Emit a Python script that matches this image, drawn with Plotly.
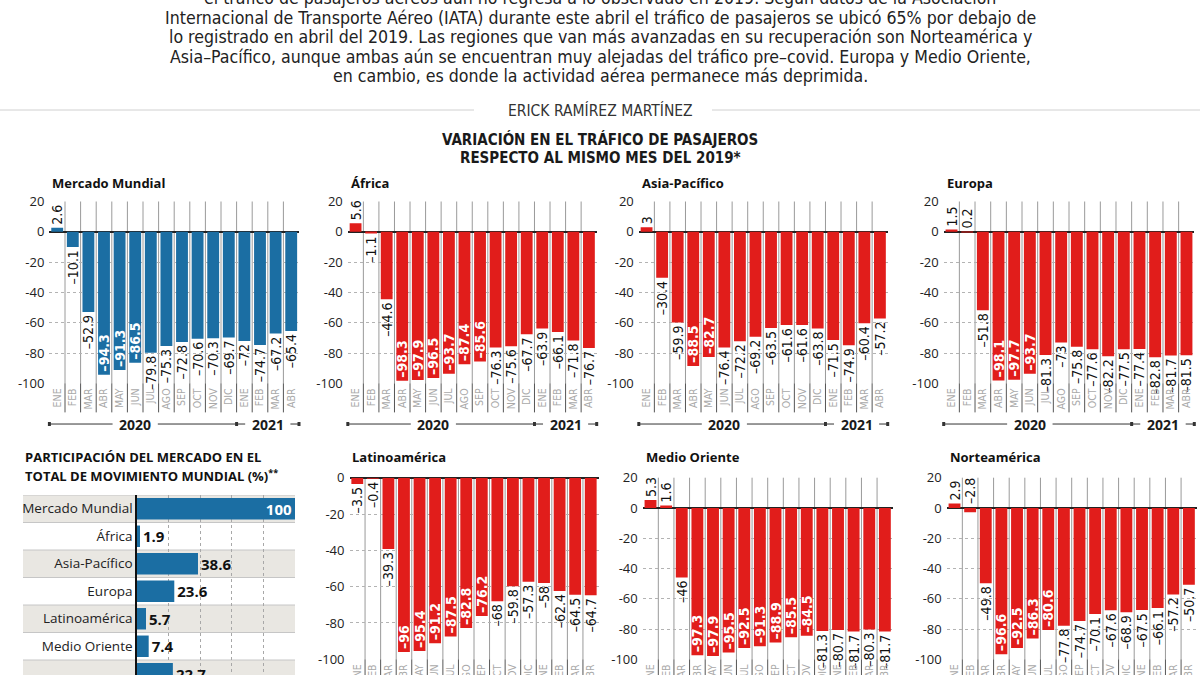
import plotly.graph_objects as go

W, H = 1200, 675

# ---------------- data ----------------
months = ["ENE", "FEB", "MAR", "ABR", "MAY", "JUN", "JUL", "AGO", "SEP", "OCT", "NOV", "DIC",
          "ENE", "FEB", "MAR", "ABR"]
years = ["2020", "2021"]

mundial = [2.6, -10.1, -52.9, -94.3, -91.3, -86.5, -79.8, -75.3, -72.8, -70.6, -70.3, -69.7,
           -72, -74.7, -67.2, -65.4]
africa = [5.6, -1.1, -44.6, -98.3, -97.9, -96.5, -93.7, -87.4, -85.6, -76.3, -75.6, -67.7,
          -63.9, -66.1, -71.8, -76.7]
asia = [3, -30.4, -59.9, -88.5, -82.7, -76.4, -72.2, -69.2, -63.5, -61.6, -61.6, -63.8,
        -71.5, -74.9, -60.4, -57.2]
europa = [1.5, 0.2, -51.8, -98.1, -97.7, -93.7, -81.3, -73, -75.8, -77.6, -82.2, -77.5,
          -77.4, -82.8, -81.7, -81.5]
latam = [-3.5, -0.4, -39.3, -96, -95.4, -91.2, -87.5, -82.8, -76.2, -68, -59.8, -57.3,
         -58, -62.4, -64.5, -64.7]
medio = [5.3, 1.6, -46, -97.3, -97.9, -95.5, -92.5, -91.3, -88.9, -85.5, -84.5, -81.3,
         -80.7, -81.7, -80.3, -81.7]
norte = [2.9, -2.8, -49.8, -96.6, -92.5, -86.3, -80.6, -77.8, -74.7, -70.1, -67.6, -68.9,
         -67.5, -66.1, -57.2, -50.7]

regions = ["Mercado Mundial", "África", "Asia-Pacífico", "Europa", "Latinoamérica",
           "Medio Oriente", "Norteamérica"]
shares = [100, 1.9, 38.6, 23.6, 5.7, 7.4, 22.7]

body_lines = [
    "el tráfico de pasajeros aéreos aún no regresa a lo observado en 2019. Según datos de la Asociación",
    "Internacional de Transporte Aéreo (IATA) durante este abril el tráfico de pasajeros se ubicó 65% por debajo de",
    "lo registrado en abril del 2019. Las regiones que van más avanzadas en su recuperación son Norteamérica y",
    "Asia–Pacífico, aunque ambas aún se encuentran muy alejadas del tráfico pre–covid. Europa y Medio Oriente,",
    "en cambio, es donde la actividad aérea permanece más deprimida.",
]
author = "ERICK RAMÍREZ MARTÍNEZ"
title_lines = ["VARIACIÓN EN EL TRÁFICO DE PASAJEROS", "RESPECTO AL MISMO MES DEL 2019*"]
share_title = ["PARTICIPACIÓN DEL MERCADO EN EL", "TOTAL DE MOVIMIENTO MUNDIAL (%)<sup>**</sup>"]

# ---------------- style ----------------
BLUE = "#1b6ea3"
RED = "#e11d1b"
NARROW = "Liberation Sans Narrow, Arial Narrow, DejaVu Sans Condensed, sans-serif"
SANS = "Open Sans, Noto Sans, sans-serif"
DARK = "#1a1a1a"


def fx(p):
    return p / W


def fy(p):
    return 1 - p / H


TOP = dict(yd=(201.5, 383.3), title_y=183)
BOT = dict(yd=(477.7, 659.3), title_y=457)

panels = [
    dict(title="Mercado Mundial", values=mundial, color=BLUE, xd=(49.4, 299.0), row=TOP,
         yr=(-100, 20), inside=[3, 4, 5], years=True),
    dict(title="África", values=africa, color=RED, xd=(347.8, 596.7), row=TOP,
         yr=(-100, 20), inside=[3, 4, 5, 6, 7, 8], years=True),
    dict(title="Asia-Pacífico", values=asia, color=RED, xd=(638.8, 887.7), row=TOP,
         yr=(-100, 20), inside=[3, 4], years=True),
    dict(title="Europa", values=europa, color=RED, xd=(943.7, 1194.3), row=TOP,
         yr=(-100, 20), inside=[3, 4, 5], years=True),
    dict(title="Latinoamérica", values=latam, color=RED, xd=(349.5, 598.5), row=BOT,
         yr=(-100, 0), inside=[3, 4, 5, 6, 7, 8], years=False),
    dict(title="Medio Oriente", values=medio, color=RED, xd=(642.7, 892.7), row=BOT,
         yr=(-100, 20), inside=[3, 4, 5, 6, 7, 8, 9, 10], years=False),
    dict(title="Norteamérica", values=norte, color=RED, xd=(946.7, 1196.7), row=BOT,
         yr=(-100, 20), inside=[3, 4, 5, 6], above=[1], years=False),
]

fig = go.Figure()
shapes = []
annotations = []
layout_axes = {}
nm = len(months)
year_spans = [(-0.5, 11.5, 5.0), (11.5, nm - 0.5, 13.5)]  # start, end, label position

for n, p in enumerate(panels, start=1):
    sfx = "" if n == 1 else str(n)
    xa, ya = "x" + sfx, "y" + sfx
    vals = p["values"]
    pos = []
    for i, v in enumerate(vals):
        if i in p["inside"]:
            pos.append("inside")
        elif i in p.get("above", []):
            pos.append("none")
        else:
            pos.append("outside")
    texts = [f"{v:g}".replace("-", "–") for v in vals]
    fig.add_trace(go.Bar(
        x=list(range(nm)), y=vals, width=0.76,
        marker=dict(color=p["color"], line=dict(width=0)),
        text=texts, textposition=pos, textangle=-90, insidetextanchor="end",
        constraintext="none", cliponaxis=False,
        outsidetextfont=dict(family=NARROW, size=14, color="#111"),
        insidetextfont=dict(family=NARROW, size=14, color="white", weight="bold"),
        xaxis=xa, yaxis=ya, hoverinfo="skip", showlegend=False,
    ))
    for i in p.get("above", []):
        annotations.append(dict(xref=xa, yref=ya, x=i, y=0, text=texts[i], textangle=-90,
                                showarrow=False, xanchor="center", yanchor="bottom", yshift=2,
                                font=dict(family=NARROW, size=14, color="#111")))

    y0p, y1p = p["row"]["yd"]
    lo, hi = p["yr"]
    ticks = list(range(hi, lo - 1, -20))
    layout_axes["xaxis" + sfx] = dict(
        domain=[fx(p["xd"][0]), fx(p["xd"][1])], range=[-0.5, nm - 0.5], anchor=ya,
        tickvals=list(range(nm)), ticktext=months, tickangle=-90,
        tickfont=dict(family=NARROW, size=10.5, color="#a9a9a9"),
        showgrid=False, zeroline=False, showline=False, ticks="", automargin=False,
        ticklabelstandoff=2, fixedrange=True,
    )
    layout_axes["yaxis" + sfx] = dict(
        domain=[fy(y1p), fy(y0p)], range=[lo, hi], anchor=xa,
        tickvals=ticks, ticktext=[str(t) for t in ticks],
        tickfont=dict(family=SANS, size=13, color="#222"),
        showgrid=True, gridcolor="#b3b3b3", griddash="dot", gridwidth=1,
        zeroline=True, zerolinecolor="#222", zerolinewidth=1.5,
        showline=False, ticks="", automargin=False, ticklabelstandoff=4, fixedrange=True,
    )

    # category separators: light inside the plot, darker across the month labels
    sep_bottom = -0.16 if p["years"] else -0.12
    for k in range(nm - 1):
        shapes.append(dict(type="line", xref=xa, yref=ya + " domain", x0=k + 0.5, x1=k + 0.5,
                           y0=1, y1=0, line=dict(color="#9a9a9a", width=1), layer="below"))
        shapes.append(dict(type="line", xref=xa, yref=ya + " domain", x0=k + 0.5, x1=k + 0.5,
                           y0=0, y1=sep_bottom, line=dict(color="#555555", width=1),
                           layer="below"))

    # year row
    if p["years"]:
        yrow = -0.224
        half = 1.45  # half-gap around the year label, in month units
        for (a, b, c), label in zip(year_spans, years):
            for s0, s1 in ((a, c - half), (c + half, b)):
                if s1 > s0:
                    shapes.append(dict(type="line", xref=xa, yref=ya + " domain",
                                       x0=s0, x1=s1, y0=yrow, y1=yrow,
                                       line=dict(color="#333", width=1)))
            annotations.append(dict(xref=xa, yref=ya + " domain", x=c, y=yrow,
                                    xanchor="center", yanchor="middle",
                                    text=f"<b>{label}</b>", showarrow=False,
                                    font=dict(family=SANS, size=14, color=DARK)))
        for b in (-0.5, 11.5, nm - 0.5):
            frac = (b + 0.5) / nm
            shapes.append(dict(type="line", xref=xa + " domain", yref=ya + " domain",
                               x0=frac - 0.006, x1=frac + 0.006, y0=yrow, y1=yrow,
                               line=dict(color="#333", width=4)))

    # panel title
    annotations.append(dict(xref="paper", yref="paper", x=fx(p["xd"][0] + 1),
                            y=fy(p["row"]["title_y"]), xanchor="left", yanchor="middle",
                            text=f"<b>{p['title']}</b>", showarrow=False,
                            font=dict(family=SANS, size=13, color="#111")))

# ---------------- market share bars ----------------
nr = len(regions)
fig.add_trace(go.Bar(
    y=list(range(nr)), x=shares, orientation="h", width=0.78,
    marker=dict(color=BLUE, line=dict(width=0)),
    text=[f"{v:g}" for v in shares],
    textposition=["inside" if v >= 90 else "outside" for v in shares],
    insidetextanchor="end", textangle=0, constraintext="none", cliponaxis=False,
    outsidetextfont=dict(family=SANS, size=15, color="#111", weight="bold"),
    insidetextfont=dict(family=SANS, size=15, color="white", weight="bold"),
    xaxis="x8", yaxis="y8", hoverinfo="skip", showlegend=False,
))
layout_axes["xaxis8"] = dict(domain=[fx(137), fx(295)], range=[0, 100], anchor="y8",
                             tickvals=[20, 40, 60, 80, 100], showticklabels=False,
                             showgrid=True, gridcolor="#a8a8a8", griddash="dot", gridwidth=1,
                             zeroline=False, showline=False, ticks="", automargin=False,
                             fixedrange=True)
layout_axes["yaxis8"] = dict(domain=[0, fy(495)], range=[6.045, -0.5], anchor="x8",
                             tickvals=list(range(nr)), ticktext=regions,
                             tickfont=dict(family=SANS, size=13.5, color="#222"),
                             showgrid=False, zeroline=False, showline=True, linecolor="#111",
                             linewidth=1.5, ticks="", automargin=False, ticklabelstandoff=0,
                             fixedrange=True)
for i in range(nr):
    if i % 2 == 0:
        shapes.append(dict(type="rect", xref="paper", yref="y8", x0=fx(23), x1=fx(295),
                           y0=i - 0.5, y1=i + 0.5, fillcolor="#e9e7e2",
                           line=dict(width=0), layer="below"))
for i in range(nr + 1):
    shapes.append(dict(type="line", xref="paper", yref="y8", x0=fx(23), x1=fx(295),
                       y0=i - 0.5, y1=i - 0.5, line=dict(color="#c6c6c6", width=1),
                       layer="below"))
for j, line in enumerate(share_title):
    annotations.append(dict(xref="paper", yref="paper", x=fx(23), y=fy(457 + 18 * j),
                            xanchor="left", yanchor="middle", text=f"<b>{line}</b>",
                            showarrow=False, font=dict(family=SANS, size=13, color="#111")))

# ---------------- header texts ----------------
for j, line in enumerate(body_lines):
    annotations.append(dict(xref="paper", yref="paper", x=0.5, y=fy(-2 + 19.6 * j),
                            xanchor="center", yanchor="middle", text=line, showarrow=False,
                            font=dict(family=NARROW, size=17.6, color="#222")))
shapes.append(dict(type="line", xref="paper", yref="paper", x0=0, x1=fx(474),
                   y0=fy(110), y1=fy(110), line=dict(color="#d0d0d0", width=1)))
shapes.append(dict(type="line", xref="paper", yref="paper", x0=fx(712), x1=1,
                   y0=fy(110), y1=fy(110), line=dict(color="#d0d0d0", width=1)))
annotations.append(dict(xref="paper", yref="paper", x=0.5, y=fy(111), xanchor="center",
                        yanchor="middle", text=author, showarrow=False,
                        font=dict(family=NARROW, size=15.5, color="#333")))
for j, line in enumerate(title_lines):
    annotations.append(dict(xref="paper", yref="paper", x=0.5, y=fy(139 + 18.5 * j),
                            xanchor="center", yanchor="middle", text=f"<b>{line}</b>",
                            showarrow=False, font=dict(family=NARROW, size=15, color="#1a1a1a")))

fig.update_layout(
    width=W, height=H, margin=dict(l=0, r=0, t=0, b=0),
    paper_bgcolor="white", plot_bgcolor="rgba(0,0,0,0)", template="none",
    shapes=shapes, annotations=annotations, showlegend=False, bargap=0.2,
    **layout_axes,
)

fig.write_html("out.html", config={"displayModeBar": False},
               post_script="document.body.style.margin='0';")
